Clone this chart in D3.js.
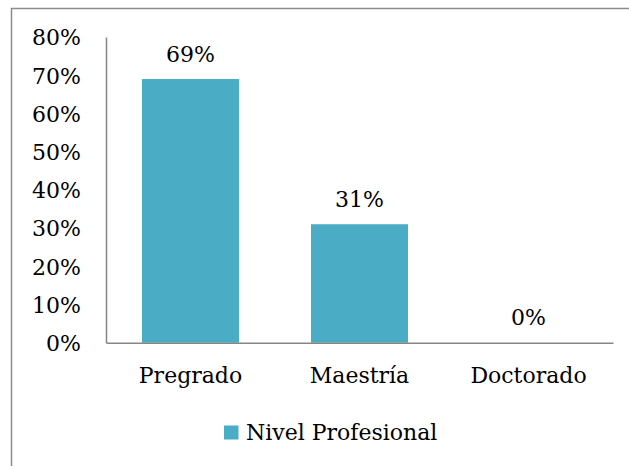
<!DOCTYPE html>
<html><head><meta charset="utf-8">
<script src="https://cdn.jsdelivr.net/npm/d3@7"></script>
<style>body{margin:0;background:#fff}svg{display:block}text{font-family:"DejaVu Serif",serif;fill:#000}</style>
</head><body><svg id="c" width="629" height="466"></svg>
<script>
const categories = ["Pregrado", "Maestría", "Doctorado"];
const values = [0.69, 0.31, 0.0];
const valueLabels = ["69%", "31%", "0%"];
const yTicks = [0, 0.1, 0.2, 0.3, 0.4, 0.5, 0.6, 0.7, 0.8];
const seriesName = "Nivel Profesional";

(function () {
const svg = d3.select("#c");
const color = "#4BACC6";
const fs = 22;
const ff = "DejaVu Serif";
svg.append("rect").attr("x", 11.5).attr("y", 8.5).attr("width", 700).attr("height", 600)
  .attr("fill", "none").attr("stroke", "#8c8c8c").attr("stroke-width", 1.5);

const pLeft = 106, pRight = 613, pTop = 37, pBottom = 342.7;
const x = d3.scaleBand().domain(categories).range([pLeft, pRight]).paddingInner(0.426).paddingOuter(0.213);
const y = d3.scaleLinear().domain([0, 0.8]).range([pBottom, pTop]);

svg.selectAll("rect.bar").data(values).join("rect").attr("class", "bar")
  .attr("x", (d, i) => x(categories[i])).attr("width", x.bandwidth())
  .attr("y", d => y(d)).attr("height", d => pBottom - y(d)).attr("fill", color);

const yAxis = svg.append("g").attr("transform", `translate(${pLeft},0)`)
  .call(d3.axisLeft(y).tickValues(yTicks).tickFormat(d3.format(".0%")).tickSize(0).tickPadding(25));
yAxis.select(".domain").attr("stroke", "#868686").attr("stroke-width", 1.5);
yAxis.selectAll("text").attr("font-size", fs).attr("font-family", ff).attr("dy", "0.36em");

const xAxis = svg.append("g").attr("transform", `translate(0,${pBottom})`)
  .call(d3.axisBottom(x).tickSize(0).tickPadding(25));
xAxis.select(".domain").attr("stroke", "#868686").attr("stroke-width", 1.5);
xAxis.selectAll("text").attr("font-size", fs).attr("font-family", ff);

svg.selectAll("text.vl").data(values).join("text").attr("class", "vl")
  .attr("x", (d, i) => x(categories[i]) + x.bandwidth() / 2)
  .attr("y", d => y(d) - 17.5).attr("text-anchor", "middle").attr("font-size", fs)
  .text((d, i) => valueLabels[i]);

const lg = svg.append("g");
lg.append("rect").attr("x", 224).attr("y", 425.5).attr("width", 14.5).attr("height", 14).attr("fill", color);
lg.append("text").attr("x", 246).attr("y", 440).attr("font-size", fs).text(seriesName);
})();
</script></body></html>
